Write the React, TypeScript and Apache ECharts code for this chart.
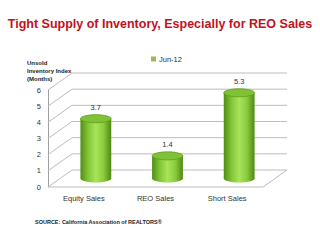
import React, { useEffect, useRef } from "react";
import * as echarts from "echarts";

const categories = ["Equity Sales", "REO Sales", "Short Sales"];
const seriesName = "Jun-12";
const values = [3.7, 1.4, 5.3];
const yTicks = [0, 1, 2, 3, 4, 5, 6];
const titleText = "Tight Supply of Inventory, Especially for REO Sales";
const yAxisTitle = "Unsold\nInventory Index\n(Months)";
const sourceText = "SOURCE: California Association of REALTORS®";

const DX = 24;
const DY = -17;
const GRID_COLOR = "#bdbdbd";

export default function App() {
  const ref = useRef<HTMLDivElement>(null);
  useEffect(() => {
    if (!ref.current) return;
    const chart = echarts.init(ref.current, undefined, { renderer: "svg" });
    const font = "Liberation Sans, Arial, sans-serif";
    chart.setOption({
      animation: false,
      backgroundColor: "#ffffff",
      title: {
        text: titleText,
        left: "center",
        top: 12,
        textStyle: { color: "#c3111d", fontSize: 12.5, fontWeight: "bold", fontFamily: font },
      },
      legend: {
        data: [seriesName],
        left: 151,
        top: 55,
        padding: 0,
        icon: "rect",
        itemWidth: 5,
        itemHeight: 5,
        itemGap: 4,
        textStyle: { fontSize: 7.5, color: "#333", fontFamily: font, padding: [0, 0, 0, -2] },
      },
      grid: { left: 48, right: 57, top: 90, bottom: 53 },
      xAxis: {
        type: "category",
        data: categories,
        axisLine: { show: false },
        axisTick: { show: false },
        axisLabel: { fontSize: 7.5, color: "#333", fontFamily: font, margin: 7 },
      },
      yAxis: {
        type: "value",
        min: 0,
        max: 6,
        interval: 1,
        axisLine: { show: true, lineStyle: { color: "#a0a0a0", width: 1 } },
        axisTick: { show: false },
        splitLine: { show: false },
        axisLabel: { fontSize: 7.5, color: "#333", fontFamily: font, margin: 7 },
      },
      graphic: [
        {
          type: "text",
          left: 27,
          top: 59,
          style: {
            text: yAxisTitle,
            fontSize: 6,
            fontWeight: "bold",
            lineHeight: 8,
            fill: "#222",
            fontFamily: font,
          },
        },
        {
          type: "text",
          left: 35,
          top: 219,
          style: {
            text: sourceText,
            fontSize: 5.5,
            fontWeight: "bold",
            fill: "#222",
            fontFamily: font,
          },
        },
      ],
      series: [
        {
          type: "custom",
          name: "frame",
          silent: true,
          z: 1,
          data: yTicks.map((t) => [0, t]),
          renderItem: (params: any, api: any) => {
            const v = api.value(1);
            const cs = params.coordSys;
            const p = api.coord([0, v]);
            const L = cs.x;
            const R = cs.x + cs.width;
            const y = p[1];
            const ls = { stroke: GRID_COLOR, lineWidth: 1 };
            const children: any[] = [
              { type: "line", shape: { x1: L, y1: y, x2: L + DX, y2: y + DY }, style: ls },
              { type: "line", shape: { x1: L + DX, y1: y + DY, x2: R + DX, y2: y + DY }, style: ls },
            ];
            if (v === 0) {
              children.push({ type: "line", shape: { x1: L, y1: y, x2: R, y2: y }, style: ls });
              children.push({ type: "line", shape: { x1: R, y1: y, x2: R + DX, y2: y + DY }, style: ls });
            }
            return { type: "group", children };
          },
        },
        {
          type: "custom",
          name: seriesName,
          z: 3,
          itemStyle: { color: "#9bbb59" },
          data: values.map((v, i) => [i, v]),
          renderItem: (params: any, api: any) => {
            const i = api.value(0);
            const v = api.value(1);
            const top = api.coord([i, v]);
            const base = api.coord([i, 0]);
            const bw = api.size([1, 0])[0];
            const w = bw * 0.43;
            const cx = top[0] + DX / 2;
            const ty = top[1] + DY / 2;
            const by = base[1] + DY / 2;
            const ry = 4;
            const grad = new echarts.graphic.LinearGradient(0, 0, 1, 0, [
              { offset: 0, color: "#4f8e14" },
              { offset: 0.25, color: "#82c636" },
              { offset: 0.5, color: "#a8e35a" },
              { offset: 0.75, color: "#8acc3c" },
              { offset: 1, color: "#4d8912" },
            ]);
            return {
              type: "group",
              children: [
                {
                  type: "ellipse",
                  shape: { cx, cy: by, rx: w / 2, ry },
                  style: { fill: grad },
                },
                {
                  type: "rect",
                  shape: { x: cx - w / 2, y: ty, width: w, height: by - ty },
                  style: { fill: grad },
                },
                {
                  type: "ellipse",
                  shape: { cx, cy: ty, rx: w / 2, ry },
                  style: { fill: "#80c236", stroke: "#5f9c1c", lineWidth: 0.8 },
                },
                {
                  type: "text",
                  style: {
                    text: String(v),
                    x: cx,
                    y: ty - ry - 7,
                    align: "center",
                    verticalAlign: "middle",
                    fontSize: 7.5,
                    fill: "#333",
                    fontFamily: font,
                  },
                },
              ],
            };
          },
        },
      ],
    });
    return () => chart.dispose();
  }, []);
  return <div ref={ref} style={{ width: 320, height: 240, position: "absolute", left: 0, top: 0 }} />;
}
